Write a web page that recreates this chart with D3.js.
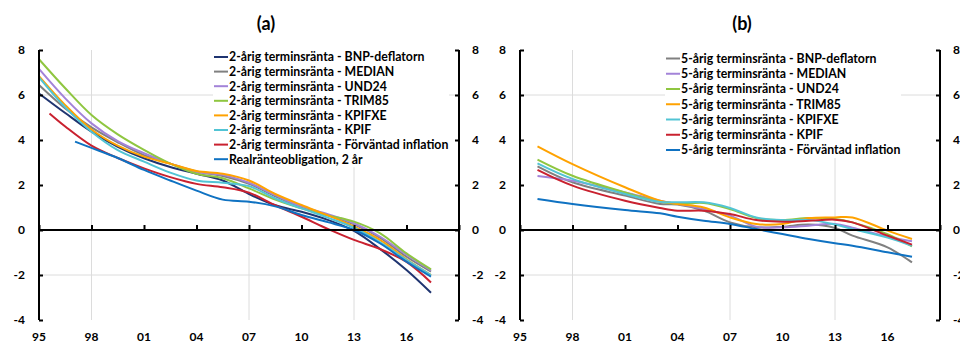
<!DOCTYPE html>
<html>
<head>
<meta charset="utf-8">
<script src="https://cdn.jsdelivr.net/npm/d3@7"></script>
<style>
  body { margin: 0; background: #fff; }
  svg text { font-family: Lato, "Open Sans", sans-serif; font-weight: bold; fill: #000; }
</style>
</head>
<body>
<script>
// Panel (a): 2-årig terminsränta
var YEARS_A = [1995, 1996.5, 1998, 1999.5, 2001, 2002.5, 2004, 2005.5, 2007, 2008.5, 2010, 2011.5, 2013, 2014.5, 2016, 2017.4];
var NAMES_A = ["2-årig terminsränta - BNP-deflatorn", "2-årig terminsränta - MEDIAN", "2-årig terminsränta - UND24",
  "2-årig terminsränta - TRIM85", "2-årig terminsränta - KPIFXE", "2-årig terminsränta - KPIF",
  "2-årig terminsränta - Förväntad inflation", "Realränteobligation, 2 år"];
var BNP_A    = [6.07, 5.2, 4.37, 3.7, 3.19, 2.8, 2.5, 2.2, 1.6, 1.1, 0.81, 0.45, -0.04, -0.85, -1.78, -2.79];
var MEDIAN_A = [6.44, 5.4, 4.56, 3.9, 3.33, 2.95, 2.6, 2.4, 2.05, 1.5, 1.0, 0.65, 0.25, -0.35, -1.19, -1.85];
var UND24_A  = [7.16, 5.85, 4.74, 3.95, 3.41, 2.95, 2.58, 2.45, 2.1, 1.55, 1.05, 0.7, 0.3, -0.3, -1.1, -1.8];
var TRIM85_A = [7.59, 6.3, 5.11, 4.25, 3.56, 2.95, 2.5, 2.3, 1.85, 1.35, 0.96, 0.65, 0.37, -0.15, -1.04, -1.75];
var KPIFXE_A = [6.84, 5.55, 4.47, 3.75, 3.26, 2.95, 2.62, 2.5, 2.2, 1.6, 1.11, 0.65, 0.15, -0.45, -1.3, -2.0];
var KPIF_A   = [6.78, 5.45, 4.37, 3.55, 3.04, 2.55, 2.2, 2.1, 1.95, 1.4, 0.96, 0.55, 0.1, -0.55, -1.33, -2.0];
// Förväntad inflation starts mid-1995, the real bond in 1997
var FORV_A_YEARS = [1995.6, 1996.5, 1998, 1999.5, 2001, 2002.5, 2004, 2005.5, 2007, 2008.5, 2010, 2011.5, 2013, 2014.5, 2016, 2017.4];
var FORV_A       = [5.18, 4.6, 3.75, 3.2, 2.74, 2.35, 2.05, 1.9, 1.66, 1.1, 0.59, 0.05, -0.44, -0.85, -1.42, -2.33];
var REAL_A_YEARS = [1997.06, 1998, 1999.5, 2001, 2002.5, 2004, 2005.5, 2007, 2008.5, 2010, 2011.5, 2013, 2014.5, 2016, 2017.4];
var REAL_A       = [3.93, 3.65, 3.2, 2.67, 2.2, 1.75, 1.35, 1.26, 1.05, 0.67, 0.35, 0.0, -0.6, -1.41, -2.07];
var COLORS_A = ["#1f3470", "#808080", "#a383d8", "#8fc640", "#ffa200", "#52c4d4", "#c9212f", "#0f72c2"];

// Panel (b): 5-årig terminsränta
var YEARS_B = [1996, 1998, 2001, 2003, 2004, 2005.5, 2007, 2008.5, 2010, 2011.5, 2013, 2014, 2016, 2017.4];
var NAMES_B = ["5-årig terminsränta - BNP-deflatorn", "5-årig terminsränta - MEDIAN", "5-årig terminsränta - UND24",
  "5-årig terminsränta - TRIM85", "5-årig terminsränta - KPIFXE", "5-årig terminsränta - KPIF",
  "5-årig terminsränta - Förväntad inflation"];
var BNP_B    = [2.83, 2.12, 1.53, 1.16, 1.13, 0.86, 0.34, 0.12, 0.15, 0.24, 0.09, -0.25, -0.77, -1.44];
var MEDIAN_B = [2.4, 2.19, 1.67, 1.3, 1.16, 0.93, 0.64, 0.15, 0.12, 0.19, 0.27, 0.1, -0.3, -0.5];
var UND24_B  = [3.13, 2.41, 1.67, 1.25, 1.16, 1.2, 0.93, 0.53, 0.44, 0.53, 0.49, 0.34, -0.18, -0.73];
var TRIM85_B = [3.72, 2.93, 1.9, 1.3, 1.16, 1.0, 0.56, 0.27, 0.27, 0.53, 0.56, 0.56, -0.03, -0.4];
var KPIFXE_B = [2.96, 2.27, 1.6, 1.25, 1.23, 1.23, 0.98, 0.56, 0.44, 0.45, 0.24, 0.04, -0.33, -0.7];
var KPIF_B   = [2.67, 1.97, 1.3, 0.98, 0.86, 0.86, 0.71, 0.44, 0.37, 0.41, 0.46, 0.34, -0.25, -0.65];
var FORV_B   = [1.38, 1.16, 0.89, 0.74, 0.59, 0.41, 0.27, 0.04, -0.18, -0.4, -0.59, -0.7, -0.99, -1.19];
var COLORS_B = ["#808080", "#a383d8", "#8fc640", "#ffa200", "#52c4d4", "#c9212f", "#0f72c2"];

var X_TICKS = [1995, 1998, 2001, 2004, 2007, 2010, 2013, 2016];
var X_GRID = [1998, 2007, 2013];
var Y_TICKS = [-4, -2, 0, 2, 4, 6, 8];
var Y_GRID = [-2, 6];

function zip(xs, ys) { return xs.map(function (x, i) { return { x: x, y: ys[i] }; }); }

var panels = [
  { title: "(a)", titleX: 266, left: 39, right: 459, legendX: 214, legendY: 57, legendStep: 14.6,
    series: [
      { name: NAMES_A[0], color: COLORS_A[0], pts: zip(YEARS_A, BNP_A) },
      { name: NAMES_A[1], color: COLORS_A[1], pts: zip(YEARS_A, MEDIAN_A) },
      { name: NAMES_A[2], color: COLORS_A[2], pts: zip(YEARS_A, UND24_A) },
      { name: NAMES_A[3], color: COLORS_A[3], pts: zip(YEARS_A, TRIM85_A) },
      { name: NAMES_A[4], color: COLORS_A[4], pts: zip(YEARS_A, KPIFXE_A) },
      { name: NAMES_A[5], color: COLORS_A[5], pts: zip(YEARS_A, KPIF_A) },
      { name: NAMES_A[6], color: COLORS_A[6], pts: zip(FORV_A_YEARS, FORV_A) },
      { name: NAMES_A[7], color: COLORS_A[7], pts: zip(REAL_A_YEARS, REAL_A) }
    ] },
  { title: "(b)", titleX: 742, left: 520, right: 940, legendX: 666, legendY: 58.5, legendStep: 15.25,
    series: [
      { name: NAMES_B[0], color: COLORS_B[0], pts: zip(YEARS_B, BNP_B) },
      { name: NAMES_B[1], color: COLORS_B[1], pts: zip(YEARS_B, MEDIAN_B) },
      { name: NAMES_B[2], color: COLORS_B[2], pts: zip(YEARS_B, UND24_B) },
      { name: NAMES_B[3], color: COLORS_B[3], pts: zip(YEARS_B, TRIM85_B) },
      { name: NAMES_B[4], color: COLORS_B[4], pts: zip(YEARS_B, KPIFXE_B) },
      { name: NAMES_B[5], color: COLORS_B[5], pts: zip(YEARS_B, KPIF_B) },
      { name: NAMES_B[6], color: COLORS_B[6], pts: zip(YEARS_B, FORV_B) }
    ] }
];

var svg = d3.select("body").append("svg").attr("width", 960).attr("height", 343);

var y = d3.scaleLinear().domain([-4, 8]).range([320, 50]);

panels.forEach(function (p) {
  var x = d3.scaleLinear().domain([1995, 2019]).range([p.left, p.right]);
  var g = svg.append("g");

  g.append("text").attr("x", p.titleX).attr("y", 30)
    .attr("text-anchor", "middle").style("font-size", "18px").text(p.title);

  // gridlines
  g.selectAll(".hg").data(Y_GRID).enter().append("line")
    .attr("x1", p.left).attr("x2", p.right).attr("y1", function (d) { return y(d); }).attr("y2", function (d) { return y(d); })
    .attr("stroke", "#dcdcdc").attr("stroke-width", 1);
  g.selectAll(".vg").data(X_GRID).enter().append("line")
    .attr("x1", function (d) { return x(d); }).attr("x2", function (d) { return x(d); }).attr("y1", y(8)).attr("y2", y(-4))
    .attr("stroke", "#dcdcdc").attr("stroke-width", 1);

  // lines
  var line = d3.line().x(function (d) { return x(d.x); }).y(function (d) { return y(d.y); }).curve(d3.curveCatmullRom.alpha(0.5));
  g.selectAll(".ser").data(p.series).enter().append("path")
    .attr("d", function (s) { return line(s.pts); })
    .attr("fill", "none").attr("stroke", function (s) { return s.color; }).attr("stroke-width", 2);

  // y axes, ticks pointing inward
  var yl = d3.axisRight(y).tickValues(Y_TICKS).tickSize(4).tickFormat("");
  var yr = d3.axisLeft(y).tickValues(Y_TICKS).tickSize(4).tickFormat("");
  [g.append("g").attr("transform", "translate(" + p.left + ",0)").call(yl),
   g.append("g").attr("transform", "translate(" + p.right + ",0)").call(yr)].forEach(function (a) {
    a.select(".domain").remove();
    a.selectAll("line").attr("stroke", "#000").attr("stroke-width", 2);
  });
  g.append("line").attr("x1", p.left).attr("x2", p.left).attr("y1", y(8)).attr("y2", y(-4)).attr("stroke", "#000").attr("stroke-width", 2);
  g.append("line").attr("x1", p.right).attr("x2", p.right).attr("y1", y(8)).attr("y2", y(-4)).attr("stroke", "#000").attr("stroke-width", 2);

  // y tick labels
  g.selectAll(".yl").data(Y_TICKS).enter().append("text")
    .attr("x", p.left - 14).attr("y", function (d) { return y(d); }).attr("dy", "0.35em")
    .attr("text-anchor", "end").style("font-size", "12px").text(function (d) { return d; });
  g.selectAll(".yr").data(Y_TICKS).enter().append("text")
    .attr("x", p.right + 13).attr("y", function (d) { return y(d); }).attr("dy", "0.35em")
    .attr("text-anchor", "start").style("font-size", "12px").text(function (d) { return d; });

  // zero line with upward ticks
  var xa = d3.axisTop(x).tickValues(X_TICKS.concat([2019])).tickSize(5).tickFormat("");
  var xg = g.append("g").attr("transform", "translate(0," + y(0) + ")").call(xa);
  xg.select(".domain").remove();
  xg.selectAll("line").attr("stroke", "#000").attr("stroke-width", 2);
  g.append("line").attr("x1", p.left).attr("x2", p.right).attr("y1", y(0)).attr("y2", y(0)).attr("stroke", "#000").attr("stroke-width", 2);

  // x labels at bottom
  g.selectAll(".xl").data(X_TICKS).enter().append("text")
    .attr("x", function (d) { return x(d); }).attr("y", 336.5).attr("dy", "0.35em")
    .attr("text-anchor", "middle").style("font-size", "12px")
    .text(function (d) { return String(d).slice(2); });

  // legend
  var lg = g.selectAll(".lg").data(p.series).enter().append("g")
    .attr("transform", function (d, i) { return "translate(" + p.legendX + "," + (p.legendY + i * p.legendStep) + ")"; });
  lg.append("rect").attr("x", -1).attr("y", -8).attr("width", 236).attr("height", 16).attr("fill", "#fff");
  lg.append("line").attr("x1", 0).attr("x2", 14).attr("stroke", function (d) { return d.color; }).attr("stroke-width", 2);
  lg.append("text").attr("x", 15).attr("dy", "0.35em").style("font-size", "12.3px").text(function (d) { return d.name; });
});
</script>
</body>
</html>
